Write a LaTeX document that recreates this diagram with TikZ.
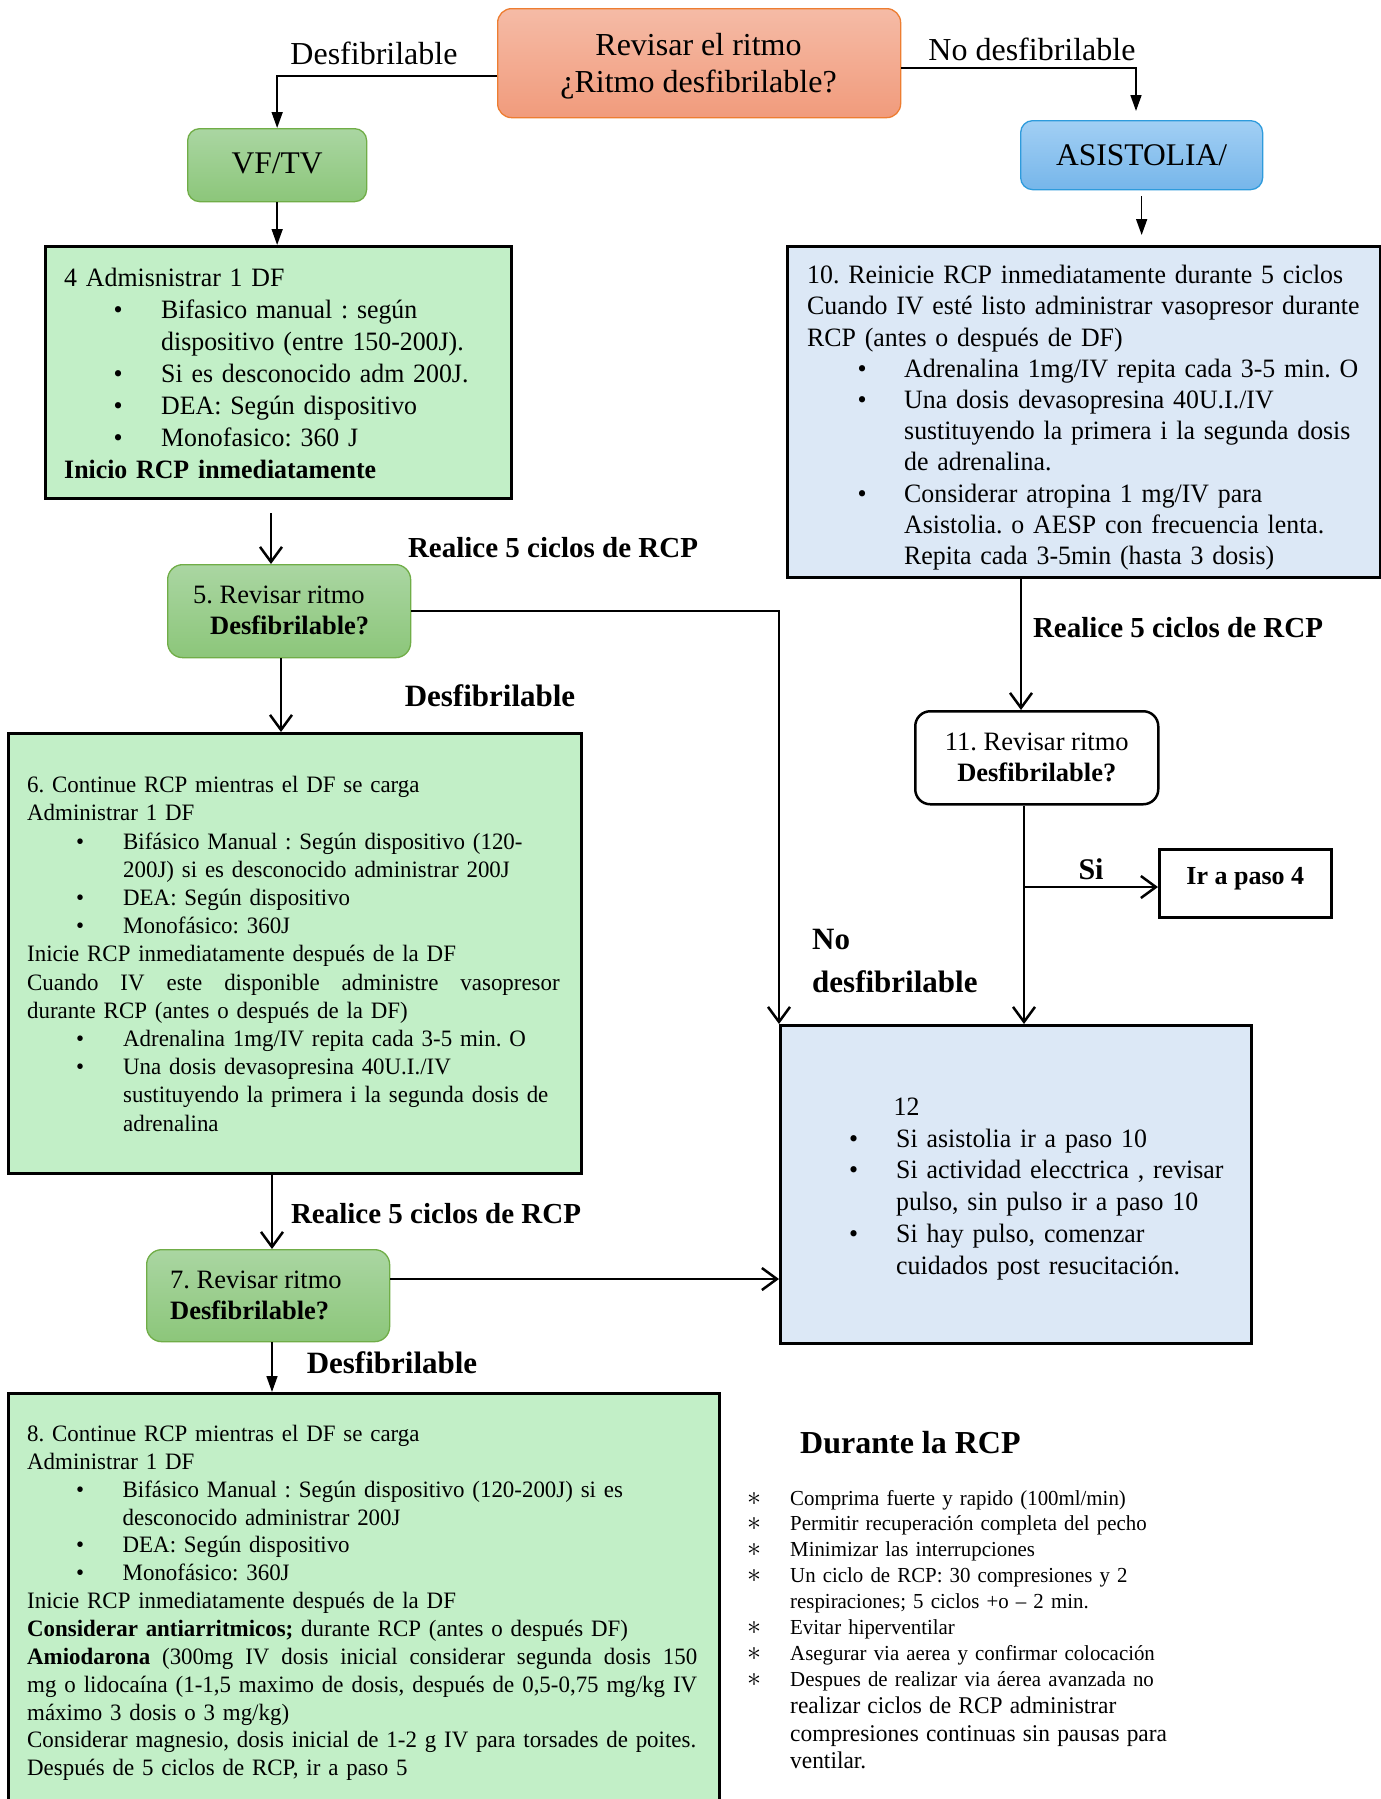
\documentclass[tikz,border=0pt]{standalone}
\usepackage{fontspec}
\usepackage{graphicx}
\setmainfont{Liberation Serif}
\newfontfamily\bx{Liberation Serif}[FakeStretch=0.975,Ligatures=TeX]
\usetikzlibrary{arrows.meta}
\definecolor{salT}{HTML}{F5BBA6}
\definecolor{salB}{HTML}{F19B7C}
\definecolor{salL}{HTML}{ED7D31}
\definecolor{grT}{HTML}{AAD6A2}
\definecolor{grB}{HTML}{8CC67A}
\definecolor{grL}{HTML}{70AD47}
\definecolor{blT}{HTML}{A2CFF4}
\definecolor{blB}{HTML}{76B6EA}
\definecolor{blL}{HTML}{2E9BDC}
\definecolor{lgr}{HTML}{C2EFC7}
\definecolor{lbl}{HTML}{DCE8F6}
\frenchspacing
\newcommand\fs[2]{\fontsize{#1}{#2}\selectfont}
\newcommand\pl[1]{\par\leftskip=0pt\noindent#1\par}
\newcommand\bi[3]{\par\leftskip=#2\relax\noindent\llap{\makebox[\dimexpr#2-#1\relax][l]{\textbullet}}#3\par}
\newcommand\ai[1]{\par\leftskip=43pt\noindent\llap{\makebox[43pt][l]{\scalebox{1.35}{$\ast$}}}#1\par}
\begin{document}
\begin{tikzpicture}[x=1pt,y=-1pt,
  rbox/.style={draw, rounded corners=14pt, line width=1.3pt, inner sep=0pt, anchor=north west},
  pbox/.style={draw, line width=3pt, inner sep=0pt, anchor=north west},
  txt/.style={anchor=north west, inner sep=0pt, text width=760pt},
  lab/.style={anchor=base, inner sep=0pt},
  arrT/.style={draw, line width=1.6pt, -{Triangle[length=16pt,width=11pt]}},
  arrO/.style={draw, line width=2.5pt, -{Straight Barb[length=15pt,width=22pt]}}]
\useasboundingbox (0,0) rectangle (1381,1799);
\clip (0,0) rectangle (1381,1799);
\fill[white] (0,0) rectangle (1381,1799);

% ---------- boxes ----------
\node[rbox, draw=salL, top color=salT, bottom color=salB, minimum width=403pt, minimum height=109pt] (top) at (497,8) {};
\node[align=center, inner sep=0pt, font=\fs{32}{37}] (ttop) at (698.5,66.5) {Revisar el ritmo\\¿Ritmo desfibrilable?};
\node[rbox, rounded corners=12pt, draw=grL, top color=grT, bottom color=grB, minimum width=179pt, minimum height=73pt,
      font=\fs{31.5}{36}] (vf) at (187,128) {\raisebox{2pt}[\height][\depth]{VF/TV}};
\node[rbox, rounded corners=12pt, draw=blL, top color=blT, bottom color=blB, minimum width=242pt, minimum height=69pt,
      font=\fs{31.5}{36}] (asis) at (1020,120) {ASISTOLIA/};
\node[pbox, fill=lgr, minimum width=466pt, minimum height=252pt] (b4) at (44,245) {};
\node[pbox, fill=lbl, minimum width=593pt, minimum height=331pt] (b10) at (786,245) {};
\node[rbox, rounded corners=15pt, draw=grL, top color=grT, bottom color=grB, minimum width=243pt, minimum height=93pt] (b5) at (167,564) {};
\node[pbox, fill=lgr, minimum width=573pt, minimum height=440pt] (b6) at (7,732) {};
\node[rbox, rounded corners=15pt, line width=2.5pt, fill=white, minimum width=243pt, minimum height=93pt,
      align=center, font=\fs{26.5}{31}] (b11) at (914,710) {11. Revisar ritmo\\\textbf{Desfibrilable?}};
\node[pbox, line width=2.5pt, fill=white, minimum width=172pt, minimum height=68pt,
      font=\fs{26}{31}\bfseries] (ir) at (1158,848) {\raisebox{5pt}[\height][\depth]{Ir a paso 4}};
\node[pbox, line width=2.5pt, fill=lbl, minimum width=471pt, minimum height=318pt] (b12) at (779,1024) {};
\node[rbox, rounded corners=15pt, draw=grL, top color=grT, bottom color=grB, minimum width=243pt, minimum height=92pt] (b7) at (146,1249) {};
\node[pbox, fill=lgr, minimum width=711pt, minimum height=440pt] (b8) at (7,1392) {};

% ---------- box texts ----------
\node[txt, font=\bx\fs{26.5}{32.1}] (t4) at (64,254) {%
\pl{\strut 4 Admisnistrar 1 DF}%
\bi{49.5pt}{97pt}{Bifasico manual : según\\dispositivo (entre 150-200J).}%
\bi{49.5pt}{97pt}{Si es desconocido adm 200J.}%
\bi{49.5pt}{97pt}{DEA: Según dispositivo}%
\bi{49.5pt}{97pt}{Monofasico: 360 J}%
\pl{\textbf{Inicio RCP inmediatamente}}};

\node[txt, font=\bx\fs{26.5}{31.2}] (t10) at (807,252.2) {%
\pl{\strut 10. Reinicie RCP inmediatamente durante 5 ciclos}%
\pl{Cuando IV esté listo administrar vasopresor durante}%
\pl{RCP (antes o después de DF)}%
\bi{50.5pt}{97pt}{Adrenalina 1mg/IV repita cada 3-5 min. O}%
\bi{50.5pt}{97pt}{Una dosis devasopresina 40U.I./IV\\sustituyendo la primera i la segunda dosis\\de adrenalina.}%
\bi{50.5pt}{97pt}{Considerar atropina 1 mg/IV para\\Asistolia. o AESP con frecuencia lenta.\\Repita cada 3-5min (hasta 3 dosis)}};

\node[anchor=west, inner sep=0pt, align=left, font=\fs{26.5}{31}] (t5) at (193,610.5)
  {5. Revisar ritmo\\\hspace*{17pt}\textbf{Desfibrilable?}};

\node[txt, font=\bx\fs{23.5}{28.2}] (t6) at (27,764.3) {%
\pl{\strut 6. Continue RCP mientras el DF se carga}%
\pl{Administrar 1 DF}%
\bi{49pt}{96pt}{Bifásico Manual : Según dispositivo (120-\\200J) si es desconocido administrar 200J}%
\bi{49pt}{96pt}{DEA: Según dispositivo}%
\bi{49pt}{96pt}{Monofásico: 360J}%
\pl{Inicie RCP inmediatamente después de la DF}%
\pl{\hbox to 532.5pt{Cuando\hfill IV\hfill este\hfill disponible\hfill administre\hfill vasopresor}}%
\pl{durante RCP (antes o después de la DF)}%
\bi{49pt}{96pt}{Adrenalina 1mg/IV repita cada 3-5 min. O}%
\bi{49pt}{96pt}{Una dosis devasopresina 40U.I./IV\\sustituyendo la primera i la segunda dosis de\\adrenalina}};

\node[anchor=west, inner sep=0pt, align=left, font=\fs{26.5}{31}] (t7) at (170,1295)
  {7. Revisar ritmo\\\textbf{Desfibrilable?}};

\node[txt, font=\bx\fs{23.5}{27.85}] (t8) at (27,1413.5) {%
\pl{\strut 8. Continue RCP mientras el DF se carga}%
\pl{Administrar 1 DF}%
\bi{49pt}{95.5pt}{Bifásico Manual : Según dispositivo (120-200J) si es\\desconocido administrar 200J}%
\bi{49pt}{95.5pt}{DEA: Según dispositivo}%
\bi{49pt}{95.5pt}{Monofásico: 360J}%
\pl{Inicie RCP inmediatamente después de la DF}%
\pl{\textbf{Considerar antiarritmicos;} durante RCP (antes o después DF)}%
\pl{\hbox to 670pt{\textbf{Amiodarona}\hfill (300mg\hfill IV\hfill dosis\hfill inicial\hfill considerar\hfill segunda\hfill dosis\hfill 150}}%
\pl{\hbox to 670pt{mg\hfill o\hfill lidocaína\hfill (1-1,5\hfill maximo\hfill de\hfill dosis,\hfill después\hfill de\hfill 0,5-0,75\hfill mg/kg\hfill IV}}%
\pl{máximo 3 dosis o 3 mg/kg)}%
\pl{Considerar magnesio, dosis inicial de 1-2 g IV para torsades de poites.}%
\pl{Después de 5 ciclos de RCP, ir a paso 5}};

\node[txt, font=\bx\fs{26.5}{31.8}] (t12) at (849,1083.2) {%
\pl{\strut\hspace*{44.5pt}12}%
\bi{0pt}{47pt}{Si asistolia ir a paso 10}%
\bi{0pt}{47pt}{Si actividad elecctrica , revisar\\pulso, sin pulso ir a paso 10}%
\bi{0pt}{47pt}{Si hay pulso, comenzar\\cuidados post resucitación.}};

\node[anchor=base west, inner sep=0pt, font=\fs{32}{38}\bfseries] (dur) at (800,1453) {Durante la RCP};
\node[txt, font=\bx\fs{21.4}{25.9}] (tdur) at (747,1478.9) {%
\ai{\strut Comprima fuerte y rapido (100ml/min)}%
\ai{Permitir recuperación completa del pecho}%
\ai{Minimizar las interrupciones}%
\ai{Un ciclo de RCP: 30 compresiones y 2\\respiraciones; 5 ciclos +o – 2 min.}%
\ai{Evitar hiperventilar}%
\ai{Asegurar via aerea y confirmar colocación}%
\ai{Despues de realizar via áerea avanzada no}%
\par{\fs{24}{27.5}\leftskip=43pt\noindent realizar ciclos de RCP administrar\\compresiones continuas sin pausas para\\ventilar.\par}};

% ---------- labels ----------
\node[lab, font=\fs{32}{38}] (lD) at (374,64) {Desfibrilable};
\node[lab, font=\fs{32}{38}] (lND) at (1032,60) {No desfibrilable};
\node[lab, font=\fs{29}{34}\bfseries] (lR1) at (553,557) {Realice 5 ciclos de RCP};
\node[lab, font=\fs{29}{34}\bfseries] (lR2) at (1178,637) {Realice 5 ciclos de RCP};
\node[lab, font=\fs{29}{34}\bfseries] (lR3) at (436,1223) {Realice 5 ciclos de RCP};
\node[lab, font=\fs{31}{36}\bfseries] (lD2) at (490,706) {Desfibrilable};
\node[lab, font=\fs{31}{36}\bfseries] (lD3) at (392,1373) {Desfibrilable};
\node[anchor=base west, inner sep=0pt, font=\fs{31}{36}\bfseries] (lNo) at (812,949) {No};
\node[anchor=base west, inner sep=0pt, font=\fs{31}{36}\bfseries] (lNd) at (812,992) {desfibrilable};
\node[lab, font=\fs{30}{36}\bfseries] (lSi) at (1091,879) {Si};

% ---------- helper coordinates ----------
\coordinate (yD) at (0,76);
\coordinate (nd) at (1136,68);
\coordinate (x271) at (271,0);
\coordinate (x281) at (281,0);
\coordinate (x272) at (272,0);
\coordinate (x1021) at (1021,0);
\coordinate (y1279) at (0,1279);
\coordinate (br) at (1024,887);

% ---------- connectors ----------
\draw[arrT] (top.west |- yD) -| (vf.north);
\draw[arrT, shorten >=9pt] (top.east |- nd) -- (nd) -- (nd |- asis.north);
\draw[arrT] (vf.south) -- (vf.south |- b4.north);
\draw[arrT, shorten <=6pt, shorten >=10pt] (asis.south) -- (asis.south |- b10.north);
\draw[arrO, shorten <=13pt] (b4.south -| x271) -- (b5.north -| x271);
\draw[arrO] (b5.south -| x281) -- (b6.north -| x281);
\draw[arrO] (b5.east) -| (b12.north west);
\draw[arrO] (b6.south -| x272) -- (b7.north -| x272);
\draw[arrO] (b7.east |- y1279) -- (b12.west |- y1279);
\draw[arrT] (b7.south -| x272) -- (b8.north -| x272);
\draw[arrO] (b10.south -| x1021) -- (b11.north -| x1021);
\draw[arrO] (b11.south -| br) -- (b12.north -| br);
\draw[arrO] (br) -- (ir.west |- br);
\end{tikzpicture}
\end{document}
